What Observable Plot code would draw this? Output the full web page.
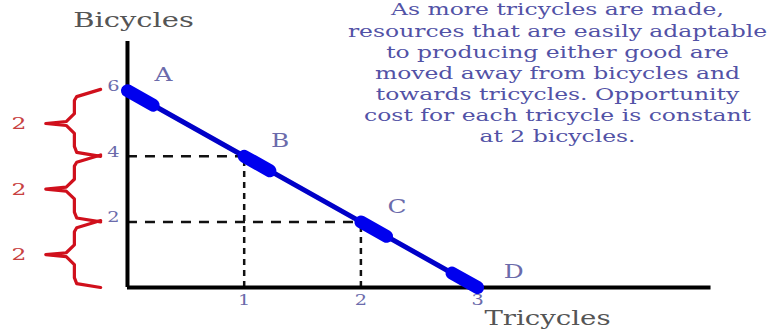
<!DOCTYPE html>
<html>
<head>
<meta charset="utf-8">
<script src="https://cdn.jsdelivr.net/npm/d3@7"></script>
<script src="https://cdn.jsdelivr.net/npm/@observablehq/plot@0.6"></script>
<style>
  html, body { margin: 0; padding: 0; background: #ffffff; }
  #chart svg { display: block; }
</style>
</head>
<body>
<div id="chart"></div>
<script>
// ---- data ----
const tricycles = [0, 1, 2, 3];
const bicycles = [6, 4, 2, 0];
const pointLabels = ["A", "B", "C", "D"];
const xTicks = [1, 2, 3];
const yTicks = [2, 4, 6];
const xTitle = "Tricycles";
const yTitle = "Bicycles";
const braceRanges = [[4, 6], [2, 4], [0, 2]];
const noteLines = [
  "As more tricycles are made,",
  "resources that are easily adaptable",
  "to producing either good are",
  "moved away from bicycles and",
  "towards tricycles. Opportunity",
  "cost for each tricycle is constant",
  "at 2 bicycles."
];

// ---- derived tables ----
const points = tricycles.map((x, i) => ({x, y: bicycles[i], label: pointLabels[i]}));
const guides = points.filter(p => p.x > 0 && p.y > 0);
const markers = points.map((p, i) => {
  const other = i < points.length - 1 ? points[i + 1] : points[i - 1];
  const f = 0.22;
  return {x1: p.x, y1: p.y, x2: p.x + f * (other.x - p.x), y2: p.y + f * (other.y - p.y)};
});

// brace geometry (style constants in data units)
const BR = -0.23, BS = -0.455, BL = -0.70;
const bracePts = [];
braceRanges.forEach(([lo, hi], k) => {
  const mid = (lo + hi) / 2;
  [[BR, hi + 0.04], [BS + 0.02, hi - 0.18], [BS, hi - 0.3],
   [BS, mid + 0.3], [BS - 0.07, mid + 0.06], [BL, mid], [BS - 0.07, mid - 0.06], [BS, mid - 0.3],
   [BS, lo + 0.3], [BS + 0.02, lo + 0.12], [BR, lo]]
    .forEach(([x, y]) => bracePts.push({x, y, k}));
});
const braceLabels = braceRanges.map(([lo, hi]) => ({y: (lo + hi) / 2, text: String(hi - lo)}));

const yAxisTop = 7.5;
const xAxisRight = 5.0;

const serif = "'DejaVu Serif', 'Liberation Serif', serif";
const tickColor = "#6b6bab";

const chart = Plot.plot({
  width: 769,
  height: 330,
  marginTop: 0, marginBottom: 0, marginLeft: 0, marginRight: 0,
  x: {domain: [-1.088, 5.501], axis: null},
  y: {domain: [-1.311, 8.75], axis: null},
  style: {background: "#ffffff", fontFamily: serif},
  marks: [
    // dashed guides
    Plot.ruleY(guides, {y: "y", x1: 0, x2: "x", stroke: "#111", strokeWidth: 2.5, strokeDasharray: "10,8"}),
    Plot.ruleX(guides, {x: "x", y1: 0, y2: "y", stroke: "#111", strokeWidth: 2.5, strokeDasharray: "6,5"}),
    // axes
    Plot.ruleX([0], {y1: 0, y2: yAxisTop, stroke: "#000", strokeWidth: 4}),
    Plot.ruleY([0], {x1: 0, x2: xAxisRight, stroke: "#000", strokeWidth: 4}),
    // tick labels
    Plot.text(yTicks, {x: 0, y: d => d, text: d => String(d), dx: -14, dy: -4, fill: tickColor, fontSize: 14}),
    Plot.text(xTicks, {x: d => d, y: 0, text: d => String(d), dy: 13, fill: tickColor, fontSize: 14}),
    // PPF line and markers
    Plot.line(points, {x: "x", y: "y", stroke: "#0000c8", strokeWidth: 5}),
    Plot.link(markers, {x1: "x1", y1: "y1", x2: "x2", y2: "y2", stroke: "#0000ee", strokeWidth: 13, strokeLinecap: "round"}),
    Plot.text(points, {x: "x", y: "y", text: "label", dx: 36, dy: -15, fill: tickColor, fontSize: 18}),
    // braces
    Plot.line(bracePts, {x: "x", y: "y", z: "k", stroke: "#d0101c", strokeWidth: 3.2, strokeLinejoin: "round"}),
    Plot.text(braceLabels, {x: -0.93, y: "y", text: "text", fill: "#c84040", fontSize: 17}),
    // titles
    Plot.text([yTitle], {frameAnchor: "top-left", dx: 133, dy: 20, textAnchor: "middle", lineAnchor: "middle", fill: "#555", fontSize: 21, letterSpacing: 1.2}),
    Plot.text([xTitle], {frameAnchor: "top-left", dx: 547, dy: 318, textAnchor: "middle", lineAnchor: "middle", fill: "#555", fontSize: 20, letterSpacing: 1.2}),
    // note
    Plot.text([noteLines.join("\n")], {frameAnchor: "top-left", dx: 557, dy: 0, textAnchor: "middle", lineAnchor: "top", lineHeight: 1.24, fill: "#5252a6", fontSize: 17, letterSpacing: 1.0})
  ]
});

// the reference lettering is horizontally stretched: widen every text around its anchor
d3.select(chart).selectAll("text").each(function () {
  const t = this.getAttribute("transform") || "";
  this.setAttribute("transform", (t + " scale(1.38,1)").trim());
});

document.getElementById("chart").appendChild(chart);
</script>
</body>
</html>
